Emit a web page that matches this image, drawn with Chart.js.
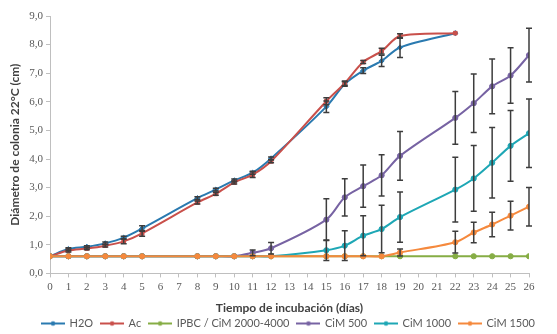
<!DOCTYPE html>
<html>
<head>
<meta charset="utf-8">
<script src="https://cdn.jsdelivr.net/npm/chart.js@4.4.1/dist/chart.umd.min.js"></script>
<style>
  html, body { margin: 0; padding: 0; background: #fff; }
  #wrap { width: 557px; height: 334px; }
</style>
</head>
<body>
<div id="wrap"><canvas id="growth-chart" width="557" height="334"></canvas></div>
<script>
// days of incubation
var days = [0, 1, 2, 3, 4, 5, 8, 9, 10, 11, 12, 15, 16, 17, 18, 19, 22, 23, 24, 25, 26];
var yTicks = [0, 1, 2, 3, 4, 5, 6, 7, 8, 9];

var h2o = [0.6, 0.85, 0.93, 1.05, 1.25, 1.57, 2.63, 2.93, 3.25, 3.52, 4.02, 5.83, 6.62, 7.09, 7.43, 7.9, 8.4];
var h2oErr = [0, 0.05, 0.04, 0.05, 0.05, 0.1, 0.05, 0.05, 0.05, 0.05, 0.05, 0.2, 0.08, 0.1, 0.2, 0.35, 0];

var ac = [0.6, 0.8, 0.87, 0.97, 1.12, 1.4, 2.48, 2.78, 3.18, 3.45, 3.92, 6.02, 6.65, 7.39, 7.77, 8.3, 8.4];
var acErr = [0, 0.05, 0.04, 0.05, 0.08, 0.1, 0.05, 0.05, 0.05, 0.1, 0.05, 0.12, 0.08, 0.05, 0.1, 0.08, 0];

var ipbc = [0.6, 0.6, 0.6, 0.6, 0.6, 0.6, 0.6, 0.6, 0.6, 0.6, 0.6, 0.6, 0.6, 0.6, 0.6, 0.6, 0.6, 0.6, 0.6, 0.6, 0.6];

var cim500 = [0.6, 0.6, 0.6, 0.6, 0.6, 0.6, 0.6, 0.6, 0.6, 0.72, 0.88, 1.88, 2.66, 3.05, 3.43, 4.11, 5.44, 5.95, 6.54, 6.92, 7.63];
var cim500Err = [0, 0, 0, 0, 0, 0, 0, 0, 0, 0.1, 0.2, 0.73, 0.65, 0.74, 0.72, 0.85, 0.92, 1.02, 0.96, 0.97, 0.94];

var cim1000 = [0.6, 0.6, 0.6, 0.6, 0.6, 0.6, 0.6, 0.6, 0.6, 0.6, 0.6, 0.81, 0.97, 1.32, 1.55, 1.97, 2.93, 3.32, 3.87, 4.46, 4.9];
var cim1000Err = [0, 0, 0, 0, 0, 0, 0, 0, 0, 0, 0, 0.36, 0.52, 0.7, 0.83, 0.88, 1.13, 1.15, 1.23, 1.24, 1.2];

var cim1500 = [0.6, 0.6, 0.6, 0.6, 0.6, 0.6, 0.6, 0.6, 0.6, 0.6, 0.6, 0.6, 0.6, 0.6, 0.6, 0.73, 1.09, 1.43, 1.71, 2.02, 2.33];
var cim1500Err = [0, 0, 0, 0, 0, 0, 0, 0, 0, 0, 0, 0, 0, 0, 0, 0.12, 0.38, 0.36, 0.43, 0.5, 0.67];

function points(values) {
    return values.map(function (v, i) { return { x: days[i], y: v }; });
}

// small line + dot sample for the legend, like Excel
function legendIcon(color) {
    var c = document.createElement('canvas');
    c.width = 24; c.height = 8;
    var g = c.getContext('2d');
    g.strokeStyle = color; g.lineWidth = 2;
    g.beginPath(); g.moveTo(0, 4); g.lineTo(24, 4); g.stroke();
    g.fillStyle = color;
    g.beginPath(); g.arc(12, 4, 2.3, 0, Math.PI * 2); g.fill();
    return c;
}

function series(label, values, errors, color, marker, idx) {
    return {
        label: label,
        data: points(values),
        errors: errors,
        borderColor: color,
        backgroundColor: color,
        borderWidth: 2,
        pointStyle: marker,
        pointRadius: 2.6,
        pointBorderWidth: 1,
        tension: 0.3,
        order: 10 - idx
    };
}

var errorBars = {
    id: 'errorBars',
    afterDatasetsDraw: function (chart) {
        var ctx = chart.ctx, x = chart.scales.x, y = chart.scales.y;
        ctx.save();
        ctx.strokeStyle = '#3d3d3d';
        ctx.lineWidth = 1.5;
        chart.data.datasets.forEach(function (ds) {
            if (!ds.errors) return;
            ds.data.forEach(function (p, i) {
                var e = ds.errors[i];
                if (!e) return;
                var px = x.getPixelForValue(p.x);
                var top = y.getPixelForValue(p.y + e);
                var bot = y.getPixelForValue(p.y - e);
                ctx.beginPath();
                ctx.moveTo(px, top); ctx.lineTo(px, bot);
                ctx.moveTo(px - 3, top); ctx.lineTo(px + 3, top);
                ctx.moveTo(px - 3, bot); ctx.lineTo(px + 3, bot);
                ctx.stroke();
            });
        });
        ctx.restore();
    }
};

// nudge the legend so it sits under the plot like in Excel
var legendShift = {
    id: 'legendShift',
    afterLayout: function (chart) {
        var l = chart.legend;
        l.left += 24; l.right += 24;
        l.top -= 5; l.bottom -= 5;
    }
};

var ctx = document.getElementById('growth-chart').getContext('2d');
var myChart = new Chart(ctx, {
    type: 'line',
    data: {
        datasets: [
            series('H2O', h2o, h2oErr, '#2a7ab0', 'rectRot', 0),
            series('Ac', ac, acErr, '#c9504b', 'rect', 1),
            series('IPBC / CiM 2000-4000', ipbc, null, '#86ad45', 'circle', 2),
            series('CiM 500', cim500, cim500Err, '#7763a3', 'circle', 3),
            series('CiM 1000', cim1000, cim1000Err, '#1ea7b5', 'circle', 4),
            series('CiM 1500', cim1500, cim1500Err, '#f5893d', 'circle', 5)
        ]
    },
    options: {
        responsive: false,
        animation: false,
        layout: { padding: { left: 0, right: 28, top: 16, bottom: -10 } },
        plugins: {
            tooltip: { enabled: false },
            legend: {
                position: 'bottom',
                labels: {
                    color: '#595959',
                    font: { family: 'Lato', size: 11 },
                    usePointStyle: true,
                    pointStyleWidth: 22,
                    padding: 8,
                    generateLabels: function (chart) {
                        return chart.data.datasets.map(function (ds, i) {
                            return {
                                text: ds.label,
                                fillStyle: ds.borderColor,
                                strokeStyle: ds.borderColor,
                                fontColor: '#595959',
                                pointStyle: legendIcon(ds.borderColor),
                                lineWidth: 0,
                                hidden: false,
                                datasetIndex: i
                            };
                        });
                    }
                }
            }
        },
        scales: {
            x: {
                type: 'linear',
                min: 0,
                max: 26,
                grid: { display: true, drawOnChartArea: false, drawTicks: true, tickLength: 4, color: '#bfbfbf' },
                border: { color: '#bfbfbf', width: 1 },
                ticks: {
                    stepSize: 1,
                    autoSkip: false,
                    maxRotation: 0,
                    padding: 3,
                    color: '#595959',
                    font: { family: 'Liberation Serif', size: 11 }
                },
                title: {
                    display: true,
                    text: 'Tiempo de incubación (días)',
                    color: '#404040',
                    font: { family: 'Lato', size: 12, weight: 'bold' },
                    padding: { top: 4, bottom: 0 }
                }
            },
            y: {
                min: 0,
                max: 9,
                afterBuildTicks: function (scale) {
                    scale.ticks = yTicks.map(function (v) { return { value: v }; });
                },
                afterFit: function (scale) { scale.width = 50; },
                grid: { display: true, drawOnChartArea: false, drawTicks: true, tickLength: 4, color: '#bfbfbf' },
                border: { color: '#bfbfbf', width: 1 },
                ticks: {
                    padding: 3,
                    color: '#595959',
                    font: { family: 'Liberation Serif', size: 11 },
                    callback: function (v) { return v.toFixed(1).replace('.', ','); }
                },
                title: {
                    display: true,
                    text: 'Diámetro de colonia 22°C (cm)',
                    color: '#404040',
                    font: { family: 'Lato', size: 12, weight: 'bold' },
                    padding: { top: 8, bottom: 0 }
                }
            }
        }
    },
    plugins: [errorBars, legendShift]
});
</script>
</body>
</html>
